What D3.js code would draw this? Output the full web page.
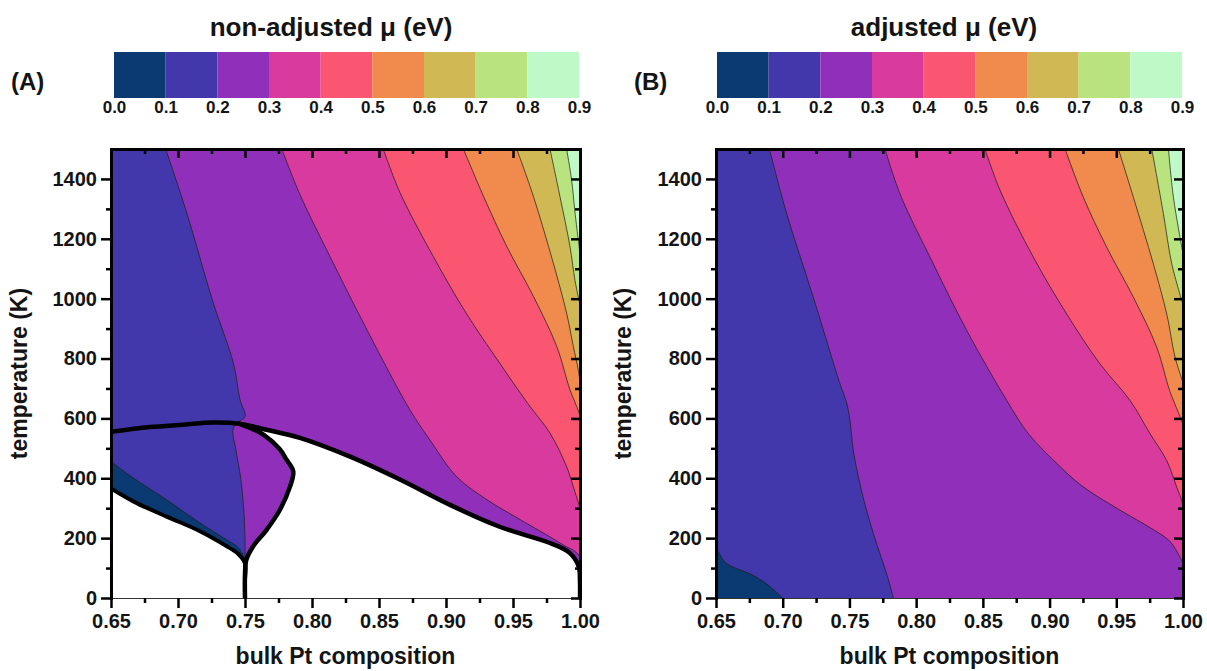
<!DOCTYPE html>
<html>
<head>
<meta charset="utf-8">
<script src="https://cdn.jsdelivr.net/npm/d3@7"></script>
<style>
  body { margin: 0; background: #fff; }
  svg { display: block; }
  text { font-family: "Liberation Sans", Arial, sans-serif; font-weight: bold; fill: #141414; }
</style>
</head>
<body>
<svg id="chart" width="1207" height="671"></svg>
<script>
// ---- μ levels (eV) and band colours ----
const levels = [0.0, 0.1, 0.2, 0.3, 0.4, 0.5, 0.6, 0.7, 0.8, 0.9];
const bandColors = ["#0b3a73", "#4338ab", "#9030ba", "#d83a9e", "#fa5571",
                    "#f08a4d", "#d0b955", "#b8e37f", "#c0f9c8"];

// ---- axis ticks ----
const xTicks = [0.65, 0.70, 0.75, 0.80, 0.85, 0.90, 0.95, 1.00];
const xMinor = [0.675, 0.725, 0.775, 0.825, 0.875, 0.925, 0.975];
const tTicks = [0, 200, 400, 600, 800, 1000, 1200, 1400];
const tMinor = [100, 300, 500, 700, 900, 1100, 1300];

// ---- (A) non-adjusted μ: iso-μ lines, [bulk Pt composition, temperature K] ----
const nonAdj01 = [[0.65,456],[0.667,400],[0.6915,328],[0.716,252],[0.7356,196],[0.745,168],[0.75,125],[0.75,0]];
const nonAdj02 = [[0.6908,1500],[0.7065,1287],[0.7263,986],[0.7413,785],[0.7463,662],[0.75,606],[0.744,585],
                  [0.741,562],[0.743,500],[0.7468,400],[0.749,300],[0.75,194],[0.75,0]];
const nonAdj03 = [[0.7774,1500],[0.791,1348],[0.8157,1120],[0.841,896],[0.873,629],[0.888,528],[0.908,405],
                  [0.9306,328],[0.953,268],[0.975,211],[0.990,171],[0.995,160],[1.0,140]];
const nonAdj04 = [[0.8532,1500],[0.8657,1354],[0.8905,1141],[0.915,952],[0.940,785],[0.961,650],[0.9776,551],
                  [0.990,439],[0.995,372],[0.9988,317],[1.0,295]];
const nonAdj05 = [[0.913,1500],[0.928,1342],[0.9453,1175],[0.9652,1008],[0.9826,841],[0.9925,696],[0.9975,640],[1.0,610]];
const nonAdj06 = [[0.9528,1500],[0.9652,1342],[0.980,1120],[0.990,952],[0.995,841],[0.9988,760],[1.0,720]];
const nonAdj07 = [[0.9776,1500],[0.985,1342],[0.9925,1175],[0.9963,1060],[1.0,980]];
const nonAdj08 = [[0.990,1500],[0.9937,1398],[0.9963,1287],[1.0,1150]];

// ---- (A) two-phase boundaries ----
const domeCurve  = [[0.65,555],[0.679,571],[0.704,579],[0.726,586],[0.746,582],[0.766,562],[0.791,535],[0.828,473],
                    [0.866,395],[0.903,311],[0.940,238],[0.978,183],[0.9925,150],[0.999,105],[1.0,50],[1.0,0]];
const lobeCurve  = [[0.746,582],[0.753,570],[0.764,545],[0.776,497],[0.781,462],[0.786,423],[0.7836,372],
                    [0.776,294],[0.766,227],[0.756,172],[0.751,127],[0.75,80],[0.75,0]];
const lowerCurve = [[0.65,366],[0.667,322],[0.6915,272],[0.716,224],[0.7356,175],[0.745,147],[0.75,116],[0.75,60],[0.75,0]];

// ---- (B) adjusted μ: iso-μ lines ----
const adj01 = [[0.65,170],[0.6567,120],[0.663,103],[0.6755,81],[0.688,47],[0.70,0]];
const adj02 = [[0.69,1500],[0.703,1284],[0.7229,1005],[0.7429,716],[0.7479,652],[0.7504,593],[0.7529,493],
               [0.7579,381],[0.7629,292],[0.7704,181],[0.7779,81],[0.783,0]];
const adj03 = [[0.7767,1500],[0.7879,1350],[0.8129,1116],[0.8379,894],[0.8679,660],[0.8841,549],[0.9053,450],
               [0.9241,375],[0.9503,300],[0.9753,235],[0.990,190],[0.9978,136],[1.0,115]];
const adj04 = [[0.8516,1500],[0.8629,1362],[0.8878,1139],[0.9128,949],[0.9378,782],[0.9603,660],[0.9753,549],
               [0.9878,459],[0.9953,370],[0.999,326],[1.0,305]];
const adj05 = [[0.9116,1500],[0.9253,1339],[0.9428,1172],[0.9628,1005],[0.9803,838],[0.990,693],[0.9965,620],[1.0,580]];
const adj06 = [[0.9516,1500],[0.9628,1339],[0.9778,1116],[0.9878,949],[0.9941,804],[1.0,720]];
const adj07 = [[0.9766,1500],[0.9853,1284],[0.9916,1116],[1.0,980]];
const adj08 = [[0.9891,1500],[0.9928,1339],[1.0,1150]];

const xDomain = [0.65, 1.0];
const tDomain = [0, 1500];

const svg = d3.select("#chart");
const fontStack = '"Liberation Sans", Arial, sans-serif';

// Walk the frame counter-clockwise from the end of an iso-line back to its start,
// so the polygon covers the higher-μ side of the line.
function closeHighSide(pts) {
  const [x0, x1] = xDomain, [y0, y1] = tDomain, eps = 1e-9;
  const s = ([px, py]) => {
    if (Math.abs(py - y0) < eps) return (px - x0) / (x1 - x0);
    if (Math.abs(px - x1) < eps) return 1 + (py - y0) / (y1 - y0);
    if (Math.abs(py - y1) < eps) return 2 + (x1 - px) / (x1 - x0);
    return 3 + (y1 - py) / (y1 - y0);
  };
  const corners = [[x1, y0, 1], [x1, y1, 2], [x0, y1, 3], [x0, y0, 4]];
  const all = corners.concat(corners.map(c => [c[0], c[1], c[2] + 4]));
  const se = s(pts[pts.length - 1]);
  let ss = s(pts[0]);
  if (ss <= se) ss += 4;
  return all.filter(c => c[2] > se && c[2] < ss).map(c => [c[0], c[1]]);
}

function styleAxis(g, width) {
  g.attr("font-size", null).attr("font-family", null);
  g.selectAll(".tick line").attr("stroke", "#000").attr("stroke-width", 2.5);
  g.select(".domain").attr("stroke", "#000").attr("stroke-width", width).attr("stroke-linecap", "square");
  g.selectAll("text").style("font-size", "20px").style("font-weight", "bold")
    .style("font-family", fontStack).attr("fill", "#141414");
}

function drawPanel(p) {
  const x = d3.scaleLinear().domain(xDomain).range([p.left, p.right]);
  const y = d3.scaleLinear().domain(tDomain).range([p.bottom, p.top]);
  const line = d3.line().x(d => x(d[0])).y(d => y(d[1])).curve(d3.curveCatmullRom.alpha(0.5));
  const toL = pts => pts.map(q => `L${x(q[0])},${y(q[1])}`).join("");

  svg.append("clipPath").attr("id", "clip" + p.id)
    .append("rect").attr("x", p.left).attr("y", p.top)
    .attr("width", p.right - p.left).attr("height", p.bottom - p.top);
  const plot = svg.append("g").attr("clip-path", `url(#clip${p.id})`);

  // lowest band underneath, then each higher band on the high side of its iso-line
  plot.append("rect").attr("x", p.left).attr("y", p.top)
    .attr("width", p.right - p.left).attr("height", p.bottom - p.top)
    .attr("fill", bandColors[0]);
  p.isolines.forEach((iso, i) => {
    plot.append("path").attr("d", line(iso) + toL(closeHighSide(iso)) + "Z")
      .attr("fill", bandColors[i + 1]);
  });
  p.isolines.forEach(iso => {
    plot.append("path").attr("d", line(iso)).attr("fill", "none")
      .attr("stroke", "#1c1c1c").attr("stroke-width", 0.8).attr("stroke-opacity", 0.9);
  });

  // two-phase regions (blank) and their boundaries
  if (p.phase) {
    const { dome, lobe, lower } = p.phase;
    plot.append("path")
      .attr("d", line(lower) + toL([[xDomain[0], tDomain[0]]]) + "Z")
      .attr("fill", "#fff");
    const domeRight = dome.slice(dome.findIndex(d => d[0] === lobe[0][0] && d[1] === lobe[0][1]));
    const lobeBack = lobe.slice().reverse();
    plot.append("path")
      .attr("d", line(domeRight) + line(lobeBack).replace(/^M/, "L") + "Z")
      .attr("fill", "#fff");
    [[dome, 4.5], [lobe, 4.5], [lower, 4]].forEach(([c, w]) => {
      plot.append("path").attr("d", line(c)).attr("fill", "none")
        .attr("stroke", "#000").attr("stroke-width", w)
        .attr("stroke-linejoin", "round").attr("stroke-linecap", "round");
    });
  }

  // axes: labelled bottom/left, inward ticks on top/right
  const bottom = svg.append("g").attr("transform", `translate(0,${p.bottom})`)
    .call(d3.axisBottom(x).tickValues(xTicks).tickFormat(d3.format(".2f"))
      .tickSize(10).tickSizeOuter(0).tickPadding(6));
  styleAxis(bottom, 1.2);
  bottom.select(".domain").attr("stroke", "#333");
  const bottomMinor = svg.append("g").attr("transform", `translate(0,${p.bottom})`)
    .call(d3.axisBottom(x).tickValues(xMinor).tickFormat("").tickSize(5).tickSizeOuter(0));
  styleAxis(bottomMinor, 0);

  const left = svg.append("g").attr("transform", `translate(${p.left},0)`)
    .call(d3.axisLeft(y).tickValues(tTicks).tickFormat(d3.format("d"))
      .tickSize(10).tickSizeOuter(0).tickPadding(4));
  styleAxis(left, 3);
  const leftMinor = svg.append("g").attr("transform", `translate(${p.left},0)`)
    .call(d3.axisLeft(y).tickValues(tMinor).tickFormat("").tickSize(5).tickSizeOuter(0));
  styleAxis(leftMinor, 0);

  const top = svg.append("g").attr("transform", `translate(0,${p.top})`)
    .call(d3.axisBottom(x).tickValues(xTicks).tickFormat("").tickSize(9).tickSizeOuter(0));
  styleAxis(top, 3);
  const topMinor = svg.append("g").attr("transform", `translate(0,${p.top})`)
    .call(d3.axisBottom(x).tickValues(xMinor).tickFormat("").tickSize(5).tickSizeOuter(0));
  styleAxis(topMinor, 0);

  const right = svg.append("g").attr("transform", `translate(${p.right},0)`)
    .call(d3.axisLeft(y).tickValues(tTicks).tickFormat("").tickSize(9).tickSizeOuter(0));
  styleAxis(right, 3);
  const rightMinor = svg.append("g").attr("transform", `translate(${p.right},0)`)
    .call(d3.axisLeft(y).tickValues(tMinor).tickFormat("").tickSize(5).tickSizeOuter(0));
  styleAxis(rightMinor, 0);

  // axis titles
  svg.append("text").attr("x", (p.left + p.right) / 2).attr("y", 664)
    .attr("text-anchor", "middle").style("font-size", "23px").text("bulk Pt composition");
  svg.append("text")
    .attr("transform", `translate(${p.yTitleX},${(p.top + p.bottom) / 2}) rotate(-90)`)
    .attr("text-anchor", "middle").style("font-size", "23px").text("temperature (K)");
}

function drawColorbar(c) {
  const s = d3.scaleLinear().domain([levels[0], levels[levels.length - 1]]).range([c.left, c.right]);
  const bar = svg.append("g");
  bandColors.forEach((col, i) => {
    bar.append("rect").attr("x", s(levels[i])).attr("y", 52)
      .attr("width", s(levels[i + 1]) - s(levels[i])).attr("height", 46).attr("fill", col);
  });
  const ax = svg.append("g").attr("transform", "translate(0,98)")
    .call(d3.axisBottom(s).tickValues(levels).tickFormat(d3.format(".1f")).tickSize(0).tickPadding(3));
  ax.select(".domain").remove();
  ax.attr("font-size", null).attr("font-family", null);
  ax.selectAll("text").style("font-size", "17px").style("font-weight", "bold")
    .style("font-family", fontStack).attr("fill", "#1e1e1e");

  svg.append("text").attr("x", c.titleX).attr("y", 36).attr("text-anchor", "middle")
    .style("font-size", "26px").text(c.title);
  svg.append("text").attr("x", c.labelX).attr("y", 90)
    .style("font-size", "24px").text(c.label);
}

drawColorbar({ left: 114, right: 579, titleX: 331, title: "non-adjusted μ (eV)", labelX: 11, label: "(A)" });
drawColorbar({ left: 717, right: 1182, titleX: 944, title: "adjusted μ (eV)", labelX: 634, label: "(B)" });

drawPanel({
  id: "A", left: 111, right: 580, top: 149, bottom: 598, yTitleX: 27,
  isolines: [nonAdj01, nonAdj02, nonAdj03, nonAdj04, nonAdj05, nonAdj06, nonAdj07, nonAdj08],
  phase: { dome: domeCurve, lobe: lobeCurve, lower: lowerCurve }
});
drawPanel({
  id: "B", left: 716, right: 1183, top: 149, bottom: 598, yTitleX: 631,
  isolines: [adj01, adj02, adj03, adj04, adj05, adj06, adj07, adj08]
});
</script>
</body>
</html>
